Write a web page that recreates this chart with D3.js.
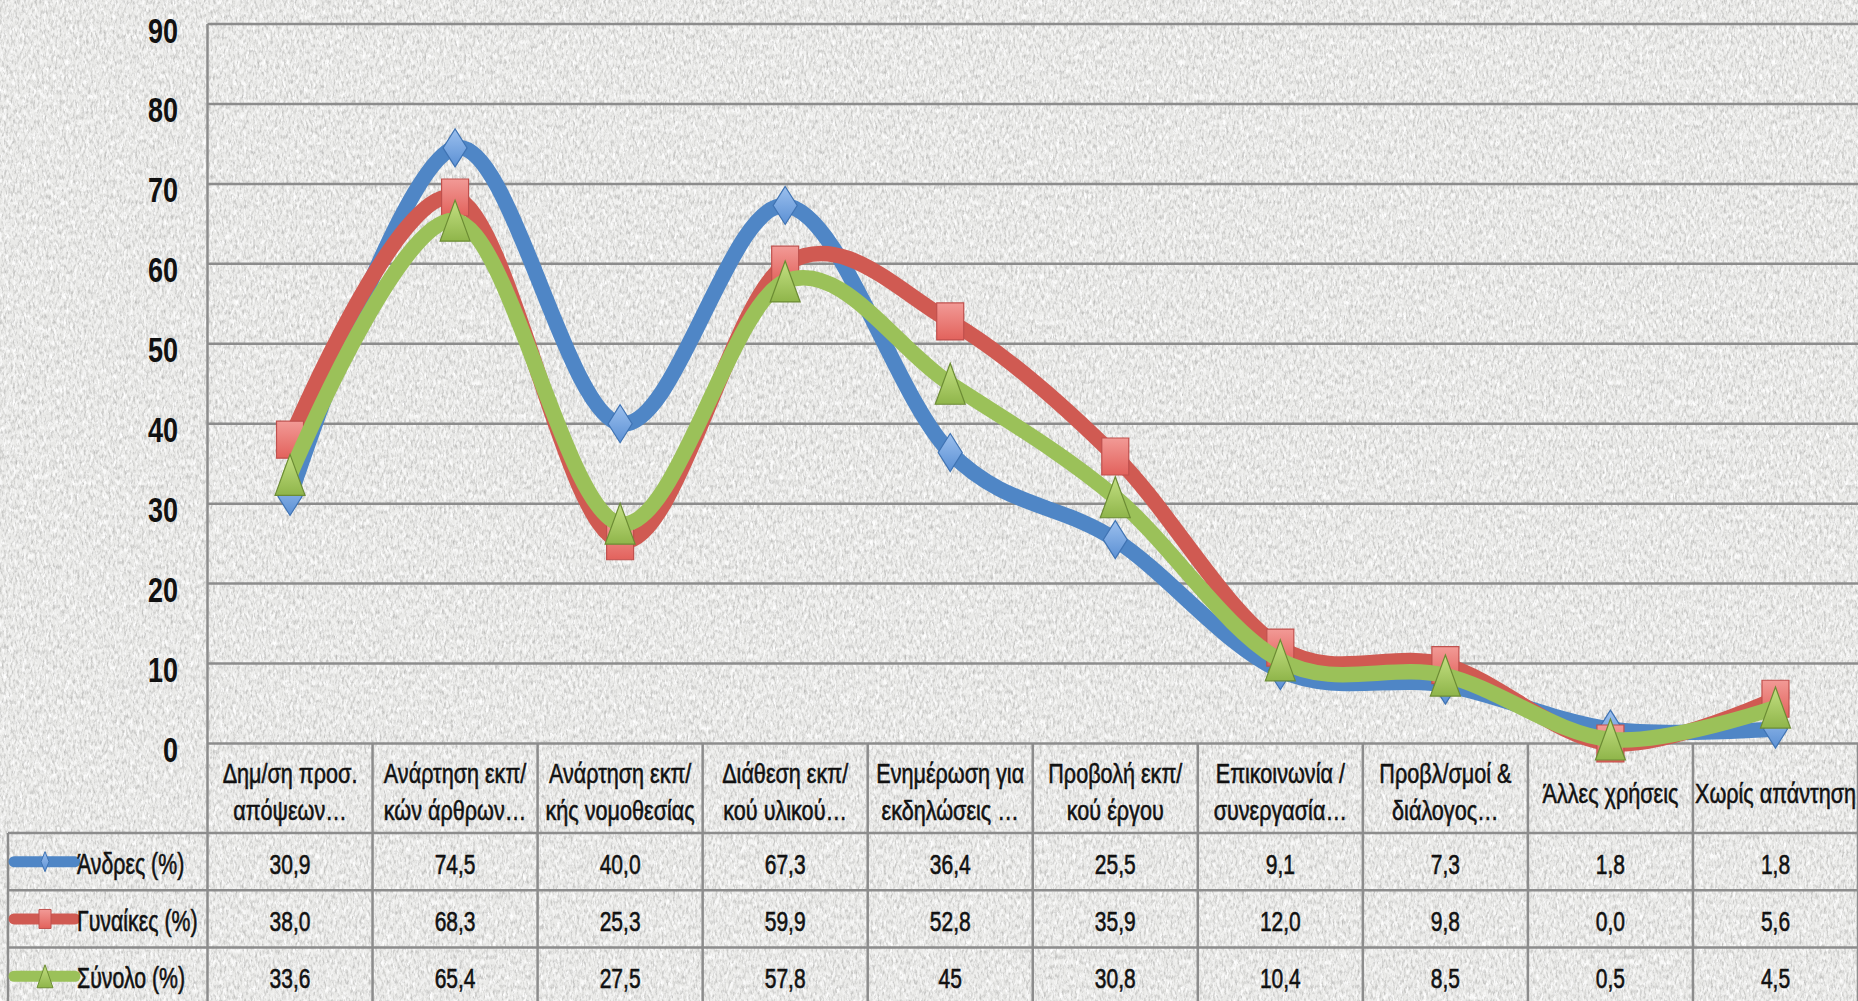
<!DOCTYPE html>
<html><head><meta charset="utf-8">
<script src="https://cdn.jsdelivr.net/npm/d3@7"></script>
<style>html,body{margin:0;padding:0;background:#ebebe9;overflow:hidden}svg{display:block}</style>
</head><body><svg id="c" width="1858" height="1001"></svg>
<script>
// ---------- DATA ----------
const categories = [
  ["Δημ/ση προσ.", "απόψεων…"],
  ["Ανάρτηση εκπ/", "κών άρθρων…"],
  ["Ανάρτηση εκπ/", "κής νομοθεσίας"],
  ["Διάθεση εκπ/", "κού υλικού…"],
  ["Ενημέρωση για", "εκδηλώσεις …"],
  ["Προβολή εκπ/", "κού έργου"],
  ["Επικοινωνία /", "συνεργασία…"],
  ["Προβλ/σμοί &", "διάλογος…"],
  ["Άλλες χρήσεις"],
  ["Χωρίς απάντηση"]
];
const seriesNames = ["Άνδρες (%)", "Γυναίκες (%)", "Σύνολο (%)"];
const andres   = [30.9, 74.5, 40.0, 67.3, 36.4, 25.5, 9.1, 7.3, 1.8, 1.8];
const gynaikes = [38.0, 68.3, 25.3, 59.9, 52.8, 35.9, 12.0, 9.8, 0.0, 5.6];
const synolo   = [33.6, 65.4, 27.5, 57.8, 45, 30.8, 10.4, 8.5, 0.5, 4.5];
const yTicks = [0, 10, 20, 30, 40, 50, 60, 70, 80, 90];

// ---------- LAYOUT ----------
const W = 1858, H = 1001;
const plotLeft = 207.5, plotRight = 1858, yTopPx = 24, yZeroPx = 743.5;
const tableLeft = 8, catBottom = 833, rowH = 57.3, tableBottom = 1006;
const gridColor = "#8c8c8c";
const textColor = "#111";
const FONT = "'Liberation Sans', Arial, sans-serif";

const loc = d3.formatLocale({decimal: ",", thousands: ".", grouping: [3], currency: ["", ""]});
const fmtFixed = loc.format(".1f"), fmtTrim = loc.format(".1~f");

const series = [
  {name: seriesNames[0], values: andres, fmt: fmtFixed, color: "#4f86c6", shape: "diamond",
   fillTop: "#9cc0ee", fillBot: "#5b90d4", stroke: "#3f73b3", mw: 24, mh: 38, lw: 8, lh: 20},
  {name: seriesNames[1], values: gynaikes, fmt: fmtFixed, color: "#d05a52", shape: "square",
   fillTop: "#f29a96", fillBot: "#e2625c", stroke: "#c0504d", mw: 27, mh: 37, lw: 12, lh: 19},
  {name: seriesNames[2], values: synolo, fmt: fmtTrim, color: "#9bc159", shape: "triangle",
   fillTop: "#c4e083", fillBot: "#8fb54a", stroke: "#6c8c34", mw: 30, mh: 41, lw: 16, lh: 23}
];

const svg = d3.select("#c");
const defs = svg.append("defs");

// background texture (dark grain + light grain)
const f = defs.append("filter").attr("id", "noise").attr("x", 0).attr("y", 0).attr("width", "100%").attr("height", "100%");
f.append("feTurbulence").attr("type", "fractalNoise").attr("baseFrequency", "0.45 0.2").attr("numOctaves", 3).attr("seed", 7);
f.append("feColorMatrix").attr("type", "matrix")
  .attr("values", "0 0 0 0 0.5  0 0 0 0 0.5  0 0 0 0 0.49  2.2 0 0 0 -0.98");
const f2 = defs.append("filter").attr("id", "noise2").attr("x", 0).attr("y", 0).attr("width", "100%").attr("height", "100%");
f2.append("feTurbulence").attr("type", "fractalNoise").attr("baseFrequency", "0.3 0.15").attr("numOctaves", 2).attr("seed", 21);
f2.append("feColorMatrix").attr("type", "matrix")
  .attr("values", "0 0 0 0 1  0 0 0 0 1  0 0 0 0 1  0 2.4 0 0 -0.95");
series.forEach((s, i) => {
  const g = defs.append("linearGradient").attr("id", "grad" + i).attr("x1", 0).attr("y1", 0).attr("x2", 0).attr("y2", 1);
  g.append("stop").attr("offset", "0%").attr("stop-color", s.fillTop);
  g.append("stop").attr("offset", "100%").attr("stop-color", s.fillBot);
});

svg.append("rect").attr("width", W).attr("height", H).attr("fill", "#eaeae8");
svg.append("rect").attr("width", W).attr("height", H).attr("filter", "url(#noise2)");
svg.append("rect").attr("width", W).attr("height", H).attr("filter", "url(#noise)");

// ---------- SCALES ----------
const x = d3.scaleBand().domain(d3.range(categories.length)).range([plotLeft, plotRight]).paddingInner(0).paddingOuter(0);
const cx = i => x(i) + x.bandwidth() / 2;
const y = d3.scaleLinear().domain([0, 90]).range([yZeroPx, yTopPx]);

// ---------- GRID ----------
const grid = svg.append("g");
grid.selectAll("line.h").data(yTicks).join("line")
  .attr("x1", plotLeft).attr("x2", plotRight).attr("y1", d => y(d)).attr("y2", d => y(d))
  .attr("stroke", gridColor).attr("stroke-width", 2.5);
grid.append("line").attr("x1", plotLeft).attr("x2", plotLeft).attr("y1", yTopPx).attr("y2", tableBottom)
  .attr("stroke", gridColor).attr("stroke-width", 2.5);
grid.selectAll("line.v").data(d3.range(1, categories.length + 1)).join("line")
  .attr("x1", d => plotLeft + d * x.bandwidth()).attr("x2", d => plotLeft + d * x.bandwidth())
  .attr("y1", yZeroPx).attr("y2", tableBottom)
  .attr("stroke", gridColor).attr("stroke-width", 2.5);
const rowTops = series.map((s, i) => catBottom + i * rowH);
grid.selectAll("line.r").data(rowTops).join("line")
  .attr("x1", tableLeft).attr("x2", W).attr("y1", d => d).attr("y2", d => d)
  .attr("stroke", gridColor).attr("stroke-width", 2.5);
grid.append("line").attr("x1", tableLeft).attr("x2", tableLeft).attr("y1", catBottom).attr("y2", tableBottom)
  .attr("stroke", gridColor).attr("stroke-width", 2.5);

// ---------- Y AXIS LABELS ----------
svg.append("g").selectAll("text").data(yTicks).join("text")
  .attr("transform", d => `translate(178,${y(d) + 18.5}) scale(1,1.3)`)
  .attr("text-anchor", "end").attr("font-family", FONT).attr("font-weight", "bold")
  .attr("font-size", 27).attr("fill", textColor).text(d => d);

// ---------- CATEGORY LABELS ----------
const catG = svg.append("g");
categories.forEach((lines, i) => {
  const base = lines.length === 2 ? [783, 820] : [803];
  lines.forEach((t, j) => {
    catG.append("text").attr("transform", `translate(${cx(i)},${base[j]}) scale(1,1.3)`)
      .attr("text-anchor", "middle").attr("font-family", FONT).attr("font-size", 21.6)
      .attr("fill", textColor).attr("stroke", textColor).attr("stroke-width", 0.45).text(t);
  });
});

// ---------- TABLE VALUES + LEGEND ----------
function shapePath(shape, w, h) {
  if (shape === "diamond") return `M0,${-h/2}L${w/2},0L0,${h/2}L${-w/2},0Z`;
  if (shape === "square") return `M${-w/2},${-h/2}H${w/2}V${h/2}H${-w/2}Z`;
  return `M0,${-h/2}L${w/2},${h/2}L${-w/2},${h/2}Z`;
}
const tab = svg.append("g");
series.forEach((s, si) => {
  const mid = rowTops[si] + rowH / 2;
  tab.selectAll(null).data(s.values).join("text")
    .attr("transform", (d, i) => `translate(${cx(i)},${mid + 12}) scale(1,1.35)`)
    .attr("text-anchor", "middle").attr("font-family", FONT).attr("font-size", 21)
    .attr("fill", textColor).attr("stroke", textColor).attr("stroke-width", 0.45).text(d => s.fmt(d));
  tab.append("line").attr("x1", 14).attr("x2", 75).attr("y1", mid).attr("y2", mid)
    .attr("stroke", s.color).attr("stroke-width", 11).attr("stroke-linecap", "round");
  tab.append("path").attr("d", shapePath(s.shape, s.lw, s.lh)).attr("transform", `translate(45,${mid})`)
    .attr("fill", `url(#grad${si})`).attr("stroke", s.stroke).attr("stroke-width", 1);
  tab.append("text").attr("transform", `translate(77,${mid + 12}) scale(1,1.35)`)
    .attr("font-family", FONT).attr("font-size", 21.3).attr("fill", textColor)
    .attr("stroke", textColor).attr("stroke-width", 0.45).text(s.name);
});

// ---------- SERIES ----------
const line = d3.line().x((d, i) => cx(i)).y(d => y(d)).curve(d3.curveCardinal.tension(0));
series.forEach((s, si) => {
  const g = svg.append("g");
  g.append("path").attr("d", line(s.values)).attr("fill", "none")
    .attr("stroke", s.color).attr("stroke-width", 15.5).attr("stroke-linejoin", "round").attr("stroke-linecap", "round");
  g.selectAll("path.m").data(s.values).join("path").attr("class", "m")
    .attr("d", shapePath(s.shape, s.mw, s.mh))
    .attr("transform", (d, i) => `translate(${cx(i)},${y(d)})`)
    .attr("fill", `url(#grad${si})`).attr("stroke", s.stroke).attr("stroke-width", 1.2);
});
</script></body></html>
